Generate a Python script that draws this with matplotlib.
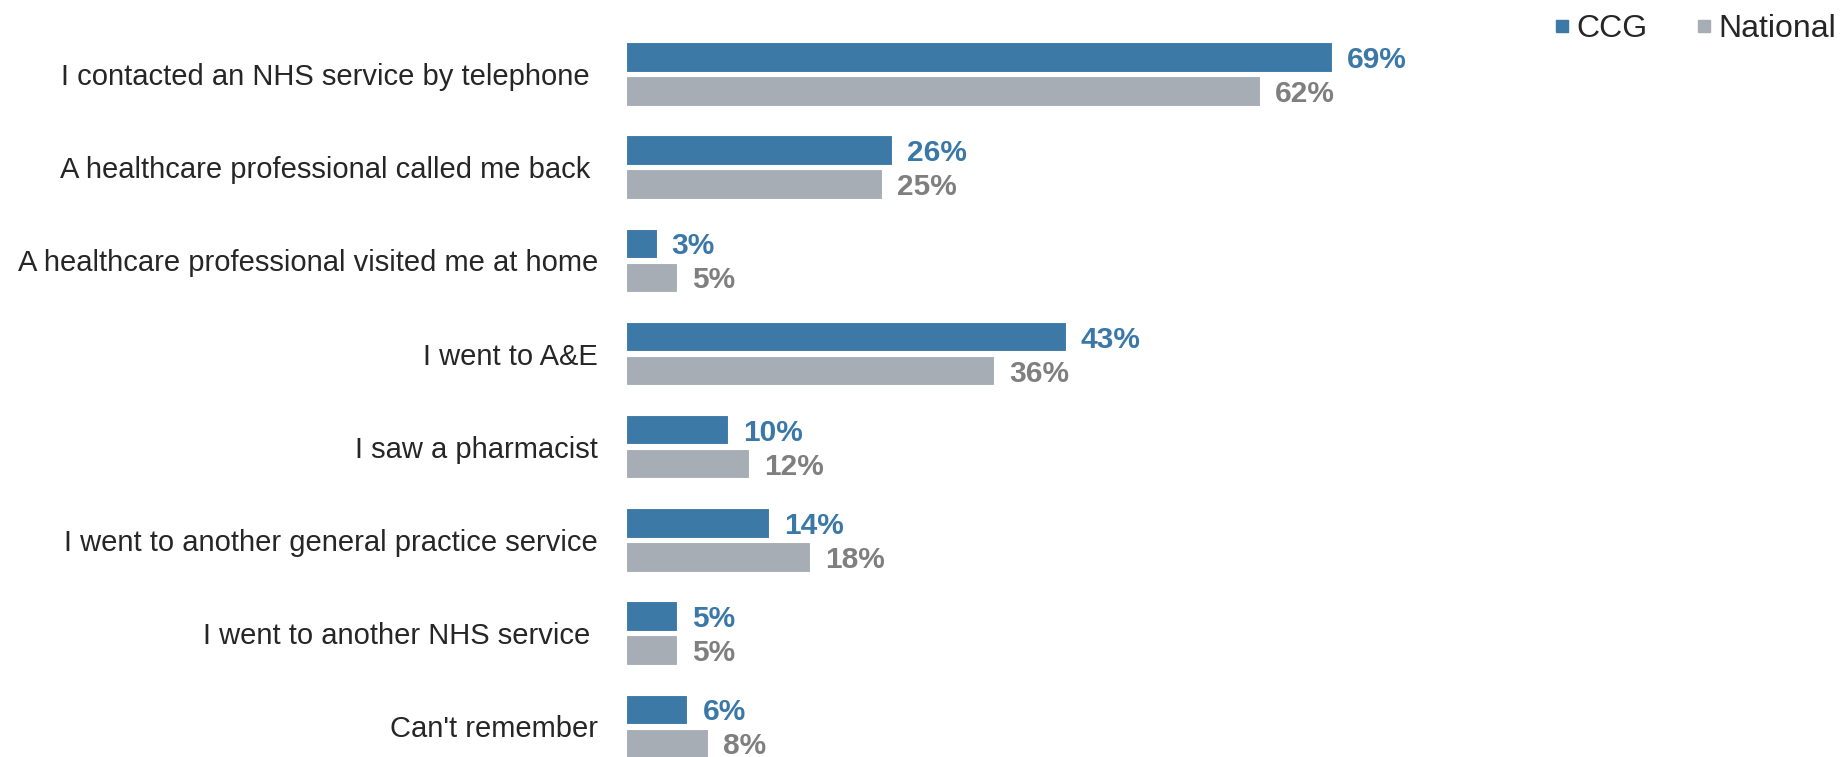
import matplotlib
matplotlib.use("Agg")
import matplotlib.pyplot as plt
from matplotlib.lines import Line2D
import numpy as np

plt.rcParams['font.family'] = ['Liberation Sans', 'DejaVu Sans']

categories = [
    "I contacted an NHS service by telephone ",
    "A healthcare professional called me back ",
    "A healthcare professional visited me at home",
    "I went to A&E",
    "I saw a pharmacist",
    "I went to another general practice service",
    "I went to another NHS service ",
    "Can't remember",
]
ccg = [69, 26, 3, 43, 10, 14, 5, 6]
national = [62, 25, 5, 36, 12, 18, 5, 8]

c_ccg = '#3c79a6'
c_nat = '#a6adb5'
t_ccg = '#3a78a8'
t_nat = '#7f7f7f'

W, H = 1842, 757
fig = plt.figure(figsize=(W / 100, H / 100), dpi=100)
left = 626 / W
right = 1649 / W
ax = fig.add_axes([left, 0, right - left, 1])

y = np.arange(len(categories))
off = 0.1825
h = 0.315
ax.barh(y - off, ccg, height=h, color=c_ccg, edgecolor='white', linewidth=0.8)
ax.barh(y + off, national, height=h, color=c_nat, edgecolor='white', linewidth=0.8)

for yi, v in zip(y, ccg):
    ax.annotate(f"{v}%", (v, yi - off), xytext=(15, -3), textcoords='offset pixels',
                va='center', ha='left', fontsize=21.5, fontweight='bold', color=t_ccg)
for yi, v in zip(y, national):
    ax.annotate(f"{v}%", (v, yi + off), xytext=(15, -3), textcoords='offset pixels',
                va='center', ha='left', fontsize=21.5, fontweight='bold', color=t_nat)

ax.set_xlim(0, 100)
ax.set_ylim(7.33, -0.794)
ax.set_yticks(y)
ax.set_yticklabels(categories, fontsize=21, color='#262626')
ax.tick_params(axis='y', length=0, pad=20)
ax.set_xticks([])
for s in ax.spines.values():
    s.set_visible(False)

handles = [Line2D([], [], marker='s', linestyle='none', markersize=8.5, color=c_ccg),
           Line2D([], [], marker='s', linestyle='none', markersize=8.5, color=c_nat)]
fig.legend(handles, ['CCG', 'National'], loc='upper right',
           bbox_to_anchor=(1836 / W, 1 - 14 / H),
           ncol=2, frameon=False, fontsize=23, handletextpad=0.1, columnspacing=1.4,
           handlelength=0.7, borderpad=0, borderaxespad=0, labelcolor='#262626')

fig.savefig('out.png', dpi=100)
